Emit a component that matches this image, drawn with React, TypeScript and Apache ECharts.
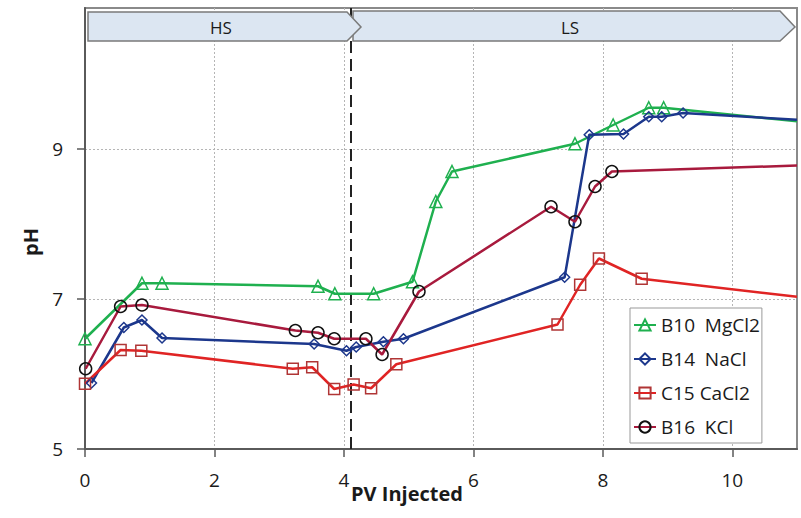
import React, { useEffect, useRef } from "react";
import * as echarts from "echarts";

// ---- data ----
const pvMgCl2 = [0, 0.88, 1.19, 3.6, 3.86, 4.46, 5.06, 5.42, 5.67, 7.57, 8.16, 8.71, 8.94, 11];
const phMgCl2 = [6.47, 7.21, 7.21, 7.17, 7.07, 7.07, 7.23, 8.3, 8.7, 9.07, 9.32, 9.55, 9.55, 9.37];

const pvNaCl = [0.1, 0.6, 0.88, 1.19, 3.54, 4.04, 4.19, 4.61, 4.92, 7.41, 7.79, 8.32, 8.71, 8.91, 9.24, 11];
const phNaCl = [5.88, 6.62, 6.72, 6.48, 6.4, 6.31, 6.36, 6.43, 6.47, 7.29, 9.19, 9.2, 9.43, 9.43, 9.48, 9.39];

const pvCaCl2 = [0, 0.55, 0.87, 3.21, 3.51, 3.85, 4.15, 4.42, 4.81, 7.3, 7.65, 7.94, 8.6, 11];
const phCaCl2 = [5.87, 6.32, 6.31, 6.07, 6.09, 5.8, 5.86, 5.81, 6.13, 6.66, 7.19, 7.54, 7.27, 7.03];

const pvKCl = [0.01, 0.55, 0.88, 3.25, 3.6, 3.85, 4.34, 4.59, 5.16, 7.2, 7.57, 7.88, 8.14, 11];
const phKCl = [6.07, 6.9, 6.92, 6.58, 6.55, 6.47, 6.47, 6.26, 7.1, 8.23, 8.03, 8.5, 8.7, 8.78];

const seriesNames = ["B10  MgCl2", "B14  NaCl", "C15 CaCl2", "B16  KCl"];
const xTicks = [0, 2, 4, 6, 8, 10];
const yTicks = [5, 7, 9];
const switchPV = 4.1;
const phaseLabels = ["HS", "LS"];

const FONT = '"Open Sans", "Noto Sans", sans-serif';

function zip(xs: number[], ys: number[]) {
  return xs.map((x, i) =>
    i === xs.length - 1 && x >= 11
      ? { value: [x, ys[i]], symbol: "none" }
      : { value: [x, ys[i]] }
  );
}

export default function App() {
  const ref = useRef<HTMLDivElement>(null);

  useEffect(() => {
    if (!ref.current) return;
    const chart = echarts.init(ref.current, undefined, { renderer: "svg" });

    const mk = (
      name: string,
      xs: number[],
      ys: number[],
      lineColor: string,
      markerColor: string,
      symbol: string,
      size: number
    ) => ({
      name,
      type: "line",
      data: zip(xs, ys),
      symbol,
      symbolSize: size,
      showAllSymbol: true,
      lineStyle: { color: lineColor, width: 2.5 },
      itemStyle: { color: "rgba(255,255,255,0)", borderColor: markerColor, borderWidth: 1.5 },
      color: lineColor,
      emphasis: { disabled: true },
      z: 3,
    });

    const s1 = mk(seriesNames[0], pvMgCl2, phMgCl2, "#1fb04f", "#1fb04f", "triangle", 12);
    const s2 = mk(seriesNames[1], pvNaCl, phNaCl, "#1c378c", "#1c378c", "diamond", 10);
    const s3 = mk(seriesNames[2], pvCaCl2, phCaCl2, "#e02424", "#b03535", "rect", 11);
    const s4 = mk(seriesNames[3], pvKCl, phKCl, "#a81a3d", "#111111", "circle", 12);
    (s1 as any).markLine = {
      silent: true,
      symbol: "none",
      label: { show: false },
      lineStyle: { color: "#222", width: 2, type: [12, 6] },
      data: [{ xAxis: switchPV }],
      z: 2,
    };

    const option: any = {
      animation: false,
      backgroundColor: "#fff",
      grid: {
        left: 85,
        right: 4,
        top: 8,
        bottom: 69,
        show: true,
        borderColor: "#8a8a8a",
        borderWidth: 2,
        containLabel: false,
      },
      xAxis: {
        type: "value",
        min: 0,
        max: 11,
        interval: 2,
        axisLine: { show: true, lineStyle: { color: "#5a5a5a", width: 2 } },
        axisTick: { show: true, length: 8, lineStyle: { color: "#5a5a5a", width: 1.5 }, customValues: xTicks },
        axisLabel: { margin: 21, fontSize: 19, color: "#1a1a1a", fontFamily: FONT, customValues: xTicks },
        splitLine: { show: true, lineStyle: { color: "#b5b5b5", width: 1, type: [2, 2] } },
      },
      yAxis: {
        type: "value",
        min: 5,
        max: 10.88,
        interval: 2,
        axisLine: { show: true, lineStyle: { color: "#5a5a5a", width: 2 } },
        axisTick: { show: true, length: 8, lineStyle: { color: "#5a5a5a", width: 1.5 }, customValues: yTicks },
        axisLabel: { margin: 22, fontSize: 19, color: "#1a1a1a", fontFamily: FONT, customValues: yTicks },
        splitLine: { show: true, lineStyle: { color: "#b5b5b5", width: 1, type: [2, 2] } },
      },
      legend: {
        show: true,
        orient: "vertical",
        left: 630,
        top: 308,
        itemWidth: 22,
        itemHeight: 14,
        itemGap: 14,
        padding: [7, 2, 6, 3],
        backgroundColor: "#fff",
        borderColor: "#999",
        borderWidth: 1,
        borderRadius: 0,
        textStyle: { fontSize: 19, lineHeight: 20, color: "#1a1a1a", fontFamily: FONT },
        selectedMode: false,
        data: seriesNames,
      },
      series: [s1, s2, s3, s4],
      graphic: [
        {
          type: "polygon",
          z: 100,
          shape: { points: [[353, 11], [780, 11], [795, 27], [780, 41], [353, 41]] },
          style: { fill: "#dce6f2", stroke: "#7a7a7a", lineWidth: 1.5 },
        },
        {
          type: "polygon",
          z: 101,
          shape: { points: [[88, 12], [347, 12], [361, 27], [347, 41], [88, 41]] },
          style: { fill: "#dce6f2", stroke: "#7a7a7a", lineWidth: 1.5 },
        },
        {
          type: "text",
          z: 102,
          x: 221,
          y: 27,
          style: {
            text: phaseLabels[0],
            fontSize: 17,
            fontFamily: FONT,
            fill: "#1a1a1a",
            align: "center",
            verticalAlign: "middle",
          },
        },
        {
          type: "text",
          z: 102,
          x: 570,
          y: 27,
          style: {
            text: phaseLabels[1],
            fontSize: 17,
            fontFamily: FONT,
            fill: "#1a1a1a",
            align: "center",
            verticalAlign: "middle",
          },
        },
        {
          type: "text",
          z: 102,
          x: 407,
          y: 493,
          style: {
            text: "PV Injected",
            fontSize: 20,
            fontWeight: "bold",
            fontFamily: FONT,
            fill: "#1a1a1a",
            align: "center",
            verticalAlign: "middle",
          },
        },
        {
          type: "text",
          z: 102,
          x: 30,
          y: 242,
          rotation: Math.PI / 2,
          style: {
            text: "pH",
            fontSize: 20,
            fontWeight: "bold",
            fontFamily: FONT,
            fill: "#1a1a1a",
            align: "center",
            verticalAlign: "middle",
          },
        },
      ],
    };

    chart.setOption(option);
    return () => chart.dispose();
  }, []);

  return (
    <div
      ref={ref}
      style={{ position: "fixed", left: 0, top: 0, width: 801, height: 518, background: "#fff" }}
    />
  );
}
